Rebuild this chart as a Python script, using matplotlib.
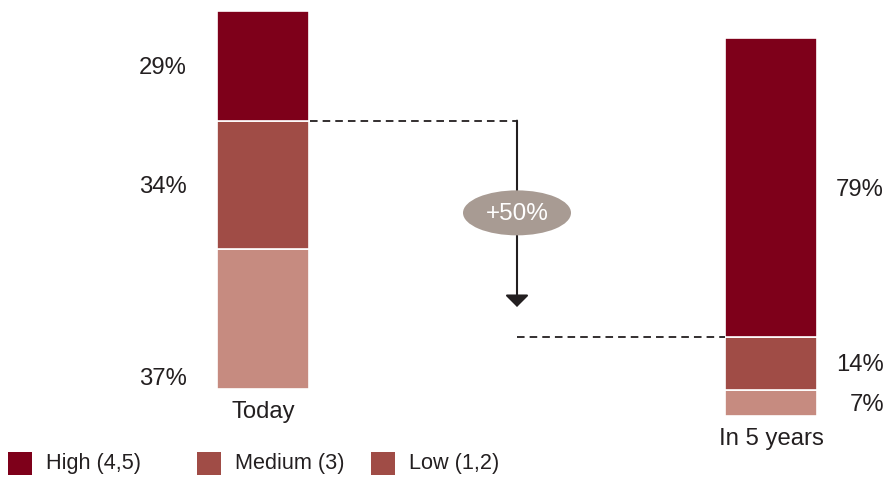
import matplotlib
matplotlib.use("Agg")
import matplotlib.pyplot as plt
from matplotlib.patches import Ellipse, Rectangle

plt.rcParams['font.family'] = ['Liberation Sans', 'DejaVu Sans']

# ---- data ----
categories = ["Today", "In 5 years"]
levels = ["Low (1,2)", "Medium (3)", "High (4,5)"]
low = [37, 7]
medium = [34, 14]
high = [29, 79]
change_label = "+50%"
legend_labels = ["High (4,5)", "Medium (3)", "Low (1,2)"]

# ---- style ----
c_high = "#7e001a"
c_med = "#a04c46"
c_low = "#c68b80"
c_text = "#231f20"
c_ell = "#a89b93"
fs = 17.2
fs_leg = 15.6

W, H = 888, 478
fig = plt.figure(figsize=(W / 100, H / 100), dpi=100)
ax = fig.add_axes([0, 0, 1, 1])
ax.set_xlim(-0.5177, 1.2303)
ax.set_ylim(-23.54, 102.91)
ax.axis("off")

x = [0, 1]
base = [0, -7.14]  # vertical offset of each bar
width = 0.181
dy = -0.6  # small downward nudge of labels

b_low = base
b_med = [b + l for b, l in zip(base, low)]
b_high = [b + l + m for b, l, m in zip(base, low, medium)]
ax.bar(x, low, width, bottom=b_low, color=c_low, edgecolor="white", linewidth=1.2)
ax.bar(x, medium, width, bottom=b_med, color=c_med, edgecolor="white", linewidth=1.2)
ax.bar(x, high, width, bottom=b_high, color=c_high, edgecolor="white", linewidth=1.2)

# value labels
# Today (left side)
ax.text(-0.1496, b_high[0] + high[0] / 2 + dy, f"{high[0]}%", ha="right", va="center",
        fontsize=fs, color=c_text)
ax.text(-0.1496, b_med[0] + medium[0] / 2 + dy, f"{medium[0]}%", ha="right", va="center",
        fontsize=fs, color=c_text)
ax.text(-0.1496, b_low[0] + 3.2 + dy, f"{low[0]}%", ha="right", va="center",
        fontsize=fs, color=c_text)
# In 5 years (right side)
for bottom, val in [(b_high[1], high[1]), (b_med[1], medium[1]), (b_low[1], low[1])]:
    ax.text(1.2224, bottom + val / 2 + dy, f"{val}%", ha="right", va="center",
            fontsize=fs, color=c_text)

# category labels
for xi, b, cat in zip(x, base, categories):
    ax.text(xi, b - 6.1, cat, ha="center", va="center", fontsize=fs, color=c_text)

# dashed connectors
y1 = b_high[0]
y2 = b_high[1]
ax.plot([width / 2 + 0.002, 0.5], [y1, y1], ls=(0, (4.2, 2.8)), lw=1.3, color=c_text)
ax.plot([0.5, 1 - width / 2], [y2, y2], ls=(0, (4.2, 2.8)), lw=1.3, color=c_text)

# arrow
ax.annotate("", xy=(0.5, 21.7), xytext=(0.5, y1),
            arrowprops=dict(arrowstyle="-|>,head_length=0.5,head_width=0.5",
                            mutation_scale=14.4, color=c_text, lw=1.5,
                            shrinkA=0, shrinkB=0))

# ellipse with change label
ax.add_patch(Ellipse((0.5, 46.6), 0.2126, 11.9, facecolor=c_ell, edgecolor="none", zorder=5))
ax.text(0.5, 46.6 - 0.3, change_label, ha="center", va="center", fontsize=17.5,
        color="white", zorder=6)

# legend (manual)
leg_colors = [c_high, c_med, c_med]
sq_x = [8, 197, 371]
for sx, col, lab in zip(sq_x, leg_colors, legend_labels):
    fig.patches.append(Rectangle((sx / W, 1 - 475 / H), 24 / W, 23 / H,
                                 transform=fig.transFigure, facecolor=col,
                                 edgecolor="none"))
    fig.text((sx + 38) / W, 1 - 464 / H, lab, ha="left", va="center",
             fontsize=fs_leg, color=c_text)

fig.savefig("out.png", dpi=100)
